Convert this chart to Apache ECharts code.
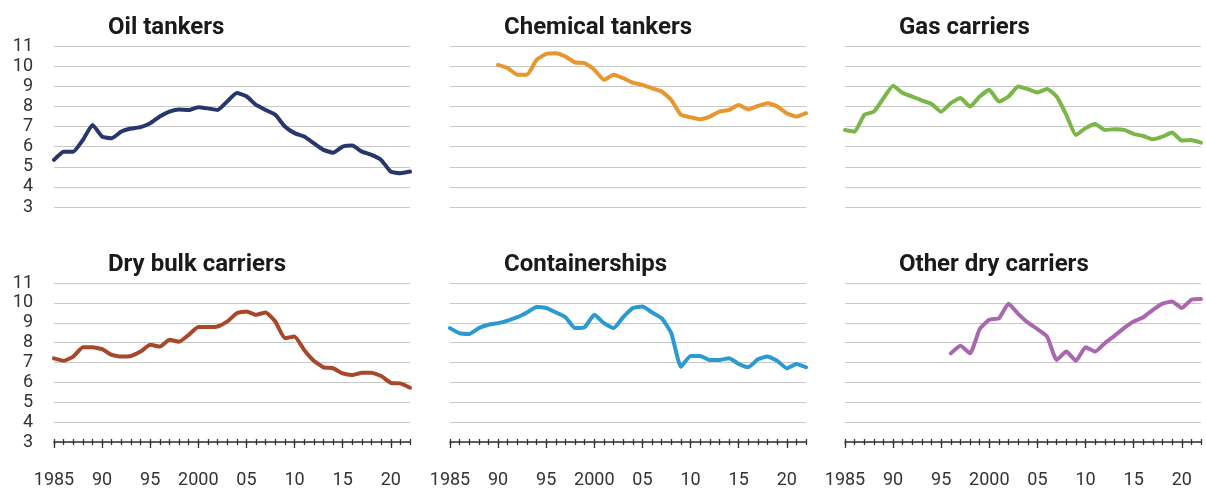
<!DOCTYPE html>
<html>
<head>
<meta charset="utf-8">
<title>Fleet age by vessel type</title>
<script src="https://cdn.jsdelivr.net/npm/echarts@6/dist/echarts.min.js"></script>
<style>
  html, body { margin: 0; padding: 0; background: #ffffff; }
  #chart { width: 1206px; height: 491px; }
</style>
</head>
<body>
<div id="chart"></div>
<script>
var years = [];
for (var y = 1985; y <= 2022; y++) years.push(y);

var yTicks = [3, 4, 5, 6, 7, 8, 9, 10, 11];

var titles = ["Oil tankers", "Chemical tankers", "Gas carriers",
  "Dry bulk carriers", "Containerships", "Other dry carriers"];

var oilTankers = [5.34, 5.75, 5.75, 6.33, 7.08, 6.5, 6.42, 6.75, 6.9, 6.97,
  7.16, 7.5, 7.74, 7.85, 7.82, 7.96, 7.9, 7.82, 8.24, 8.66,
  8.5, 8.07, 7.82, 7.58, 7.0, 6.67, 6.5, 6.17, 5.84, 5.7,
  6.0, 6.05, 5.75, 5.59, 5.34, 4.76, 4.68, 4.76];

var chemicalTankers = [null, null, null, null, null, 10.06, 9.9, 9.57, 9.57, 10.31,
  10.61, 10.64, 10.48, 10.18, 10.15, 9.82, 9.32, 9.57, 9.4, 9.18,
  9.07, 8.9, 8.74, 8.32, 7.58, 7.46, 7.36, 7.49, 7.74, 7.82,
  8.07, 7.85, 8.02, 8.16, 8.0, 7.66, 7.49, 7.66];

var gasCarriers = [6.83, 6.75, 7.58, 7.74, 8.41, 9.02, 8.66, 8.49, 8.29, 8.12,
  7.74, 8.16, 8.41, 7.99, 8.49, 8.82, 8.24, 8.49, 8.99, 8.86,
  8.69, 8.86, 8.49, 7.58, 6.58, 6.92, 7.13, 6.83, 6.86, 6.83,
  6.63, 6.53, 6.37, 6.5, 6.7, 6.3, 6.33, 6.2];

var dryBulk = [7.21, 7.09, 7.3, 7.77, 7.77, 7.67, 7.38, 7.3, 7.33, 7.55,
  7.89, 7.8, 8.14, 8.05, 8.39, 8.78, 8.78, 8.81, 9.06, 9.48,
  9.57, 9.4, 9.52, 9.06, 8.22, 8.31, 7.63, 7.09, 6.76, 6.71,
  6.45, 6.37, 6.49, 6.49, 6.32, 5.98, 5.95, 5.73];

var containerships = [8.73, 8.47, 8.44, 8.73, 8.9, 8.98, 9.11, 9.28, 9.52, 9.79,
  9.74, 9.52, 9.28, 8.73, 8.78, 9.4, 8.98, 8.73, 9.28, 9.74,
  9.82, 9.52, 9.23, 8.47, 6.79, 7.33, 7.33, 7.13, 7.13, 7.21,
  6.93, 6.76, 7.16, 7.3, 7.09, 6.71, 6.93, 6.76];

var otherDry = [null, null, null, null, null, null, null, null, null, null,
  null, 7.46, 7.84, 7.46, 8.68, 9.15, 9.23, 9.96, 9.45, 9.01,
  8.68, 8.31, 7.13, 7.55, 7.09, 7.77, 7.55, 7.97, 8.34, 8.73,
  9.06, 9.28, 9.65, 9.96, 10.07, 9.74, 10.16, 10.19];

var seriesValues = [oilTankers, chemicalTankers, gasCarriers, dryBulk, containerships, otherDry];
var colors = ["#27366b", "#e8962e", "#7ab648", "#a9472a", "#2b9ad3", "#a867ae"];

var panelLeft = [54, 450, 845];
var panelWidth = 356;
var rowTop = [46, 283];
var rowHeight = [161, 159];

function pairs(values) {
  var out = [];
  for (var i = 0; i < years.length; i++) {
    if (values[i] != null) out.push([years[i], values[i]]);
  }
  return out;
}

function yearLabel(v) {
  if (v % 5 !== 0) return "";
  if (v === 1985 || v === 2000) return String(v);
  return String(v % 100).padStart(2, "0");
}

var chart = echarts.init(document.getElementById("chart"));

var grid = [], xAxis = [], yAxis = [], series = [], title = [];

for (var p = 0; p < 6; p++) {
  var row = Math.floor(p / 3), col = p % 3;
  var bottomRow = row === 1;
  grid.push({
    left: panelLeft[col], top: rowTop[row],
    width: panelWidth, height: rowHeight[row]
  });
  title.push({
    text: titles[p],
    left: panelLeft[col] + 49,
    top: bottomRow ? 248 : 11,
    textStyle: { fontFamily: "Roboto", fontWeight: "bold", fontSize: 24, color: "#1a1a1a" }
  });

  var base = { type: "value", gridIndex: p, min: 1985, max: 2022, position: "bottom",
    splitLine: { show: false } };

  // main axis: year ticks below the line
  xAxis.push(Object.assign({}, base, {
    interval: 1,
    axisLine: { show: bottomRow, lineStyle: { color: "#333", width: 1.5 } },
    axisTick: { show: bottomRow, inside: false, length: 3, lineStyle: { color: "#333", width: 1.3 } },
    axisLabel: { show: false }
  }));
  var mainIdx = xAxis.length - 1;
  if (bottomRow) {
    // same ticks above the line
    xAxis.push(Object.assign({}, base, {
      interval: 1,
      axisLine: { show: false },
      axisTick: { show: true, inside: true, length: 3, lineStyle: { color: "#333", width: 1.3 } },
      axisLabel: { show: false }
    }));
    // five-year ticks and labels
    xAxis.push(Object.assign({}, base, {
      interval: 5,
      axisLine: { show: false },
      axisTick: { show: true, inside: false, length: 6, lineStyle: { color: "#333", width: 1.3 } },
      axisLabel: { show: true, margin: 29, formatter: yearLabel, showMaxLabel: false,
        fontFamily: "Roboto", fontSize: 18, color: "#333" }
    }));
  }

  yAxis.push({
    type: "value", gridIndex: p, min: yTicks[0], max: yTicks[yTicks.length - 1], interval: 1,
    axisLine: { show: false }, axisTick: { show: false },
    axisLabel: { show: col === 0, margin: 21, fontFamily: "Roboto", fontSize: 18, color: "#333" },
    splitLine: { lineStyle: { color: "#c8c8c8", width: 1 } }
  });

  series.push({
    type: "line", xAxisIndex: mainIdx, yAxisIndex: p,
    data: pairs(seriesValues[p]),
    symbol: "none", smooth: 0.15,
    lineStyle: { color: colors[p], width: 4, join: "round", cap: "round" }
  });
}

chart.setOption({
  animation: false,
  backgroundColor: "#ffffff",
  title: title,
  grid: grid,
  xAxis: xAxis,
  yAxis: yAxis,
  series: series
});
</script>
</body>
</html>
